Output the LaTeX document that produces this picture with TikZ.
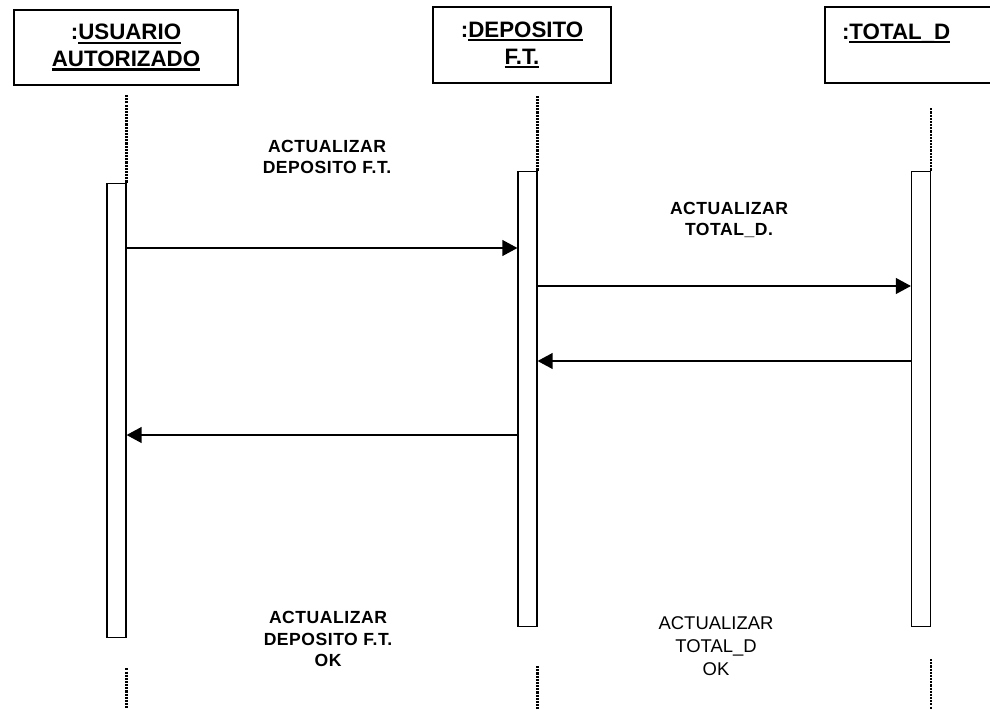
\documentclass[tikz,border=0pt]{standalone}
\usepackage{fontspec}
\setmainfont{Liberation Sans}
\usetikzlibrary{arrows.meta}

% heavy underline as in the object names
\newcommand\objul[1]{\setbox0\hbox{#1}\leavevmode\rlap{\rule[-2.3pt]{\wd0}{1.3pt}}\box0}

\tikzset{
  objbox/.style={draw,line width=0.8pt,inner sep=0pt,align=center,
                 font=\fontsize{12.7}{15.3}\selectfont\bfseries},
  actbox/.style={draw,line width=0.6pt,fill=white,minimum width=0.38cm,inner sep=0pt},
  life/.style={line width=1.3pt,dash pattern=on 1.2pt off 0.6pt},
  msg/.style={line width=1.3pt,-{Triangle[length=0.3cm,width=0.31cm]}},
  msglabel/.style={align=center,
                   font=\fontsize{10}{12.2}\selectfont\bfseries\addfontfeature{LetterSpace=3}},
  replylabel/.style={align=center,font=\fontsize{10.5}{13}\selectfont}
}

\begin{document}
\begin{tikzpicture}[x=0.02cm,y=-0.02cm]
  \clip (0,0) rectangle (990,709);
  \useasboundingbox (0,0) rectangle (990,709);

  % objects
  \node[objbox,minimum width=4.48cm,minimum height=1.5cm] (usr) at (126,47.5)
       {:\objul{USUARIO}\\\objul{AUTORIZADO}};
  \node[objbox,minimum width=3.56cm,minimum height=1.52cm] (dep) at (522,45)
       {:\objul{DEPOSITO}\\\objul{F.T.}};
  \node[objbox,minimum width=3.6cm,minimum height=1.52cm,inner xsep=0.34cm,
        text width=2.92cm,align=left] (tot) at (915,45)
       {:\objul{TOTAL\_D}\\\mbox{}};

  % activations
  \node[actbox,minimum height=9.1cm]  (act1) at (116.5,410.5) {};
  \node[actbox,minimum height=9.12cm] (act2) at (527.5,399) {};
  \node[actbox,minimum height=9.12cm] (act3) at (921,399) {};

  % lifelines
  \coordinate (bot) at (0,709);
  \draw[life,shorten >=5] (act1.north east) -- (usr.south -| act1.north east);
  \draw[life,shorten >=7] (act2.north east) -- (dep.south -| act2.north east);
  \draw[life,shorten >=14] (act3.north east) -- (tot.south -| act3.north east);
  \draw[life,shorten <=17] (act1.south east) -- (bot -| act1.south east);
  \draw[life,shorten <=22] (act2.south east) -- (bot -| act2.south east);
  \draw[life,shorten <=18] (act3.south east) -- (bot -| act3.south east);

  % messages
  \coordinate (m1) at (0,248);
  \coordinate (m2) at (0,286);
  \coordinate (m3) at (0,361);
  \coordinate (m4) at (0,435);
  \draw[msg] (act1.east |- m1) -- (act2.west |- m1);
  \draw[msg] (act2.east |- m2) -- (act3.west |- m2);
  \draw[msg] (act3.west |- m3) -- (act2.east |- m3);
  \draw[msg] (act2.west |- m4) -- (act1.east |- m4);

  \node[msglabel] (l1) at (327,157) {ACTUALIZAR\\DEPOSITO F.T.};
  \node[msglabel] (l2) at (729,220) {ACTUALIZAR\\TOTAL\_D.};
  \node[msglabel] (l4) at (328,639) {ACTUALIZAR\\DEPOSITO F.T.\\OK};
  \node[replylabel] (l3) at (716,646) {ACTUALIZAR\\TOTAL\_D\\OK};
\end{tikzpicture}
\end{document}
